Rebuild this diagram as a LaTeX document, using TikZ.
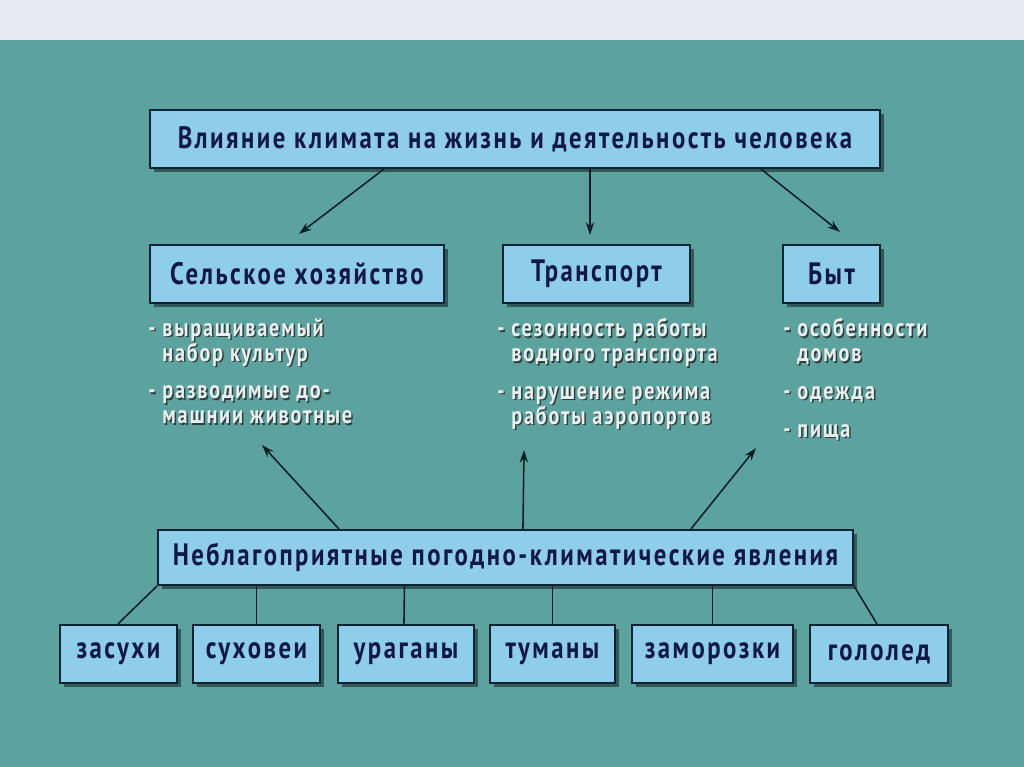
\documentclass[tikz,border=0pt]{standalone}
\usepackage{fontspec}
\setmainfont{PT Sans}
\newfontfamily\bx[FakeStretch=0.8,LetterSpace=8]{PT Sans}
\newfontfamily\bt[FakeStretch=0.8,LetterSpace=7]{PT Sans}
\usetikzlibrary{arrows.meta,shadows,calc}
\definecolor{teal1}{RGB}{92,163,160}
\definecolor{band}{RGB}{232,232,244}
\definecolor{boxfill}{RGB}{142,206,235}
\definecolor{boxline}{RGB}{14,36,52}
\definecolor{navy}{RGB}{16,24,72}
\definecolor{bultext}{RGB}{234,240,240}
\definecolor{wire}{RGB}{12,32,40}
\tikzset{
  box/.style={draw=boxline, line width=1.5pt, fill=boxfill, inner sep=0pt,
    minimum height=1.45cm, text=navy, font=\bx\bfseries\fontsize{22}{24}\selectfont,
    drop shadow={shadow xshift=0.09cm, shadow yshift=-0.09cm, fill=black, opacity=0.45}},
  small/.style={box, minimum height=1.45cm},
  bultxt/.style={anchor=north west, align=left, inner sep=0pt, text=bultext,
    font=\bt\bfseries\fontsize{18}{17.8}\selectfont},
  bulsh/.style={bultxt, text=black!85, opacity=0.8},
  arr/.style={draw=wire, line width=1.1pt, -{Stealth[length=9pt,width=6pt]}},
  link/.style={draw=wire, line width=1.1pt}
}
\newcommand{\bul}[3]{%
  \node[bulsh] (#1-sh) at ($(#2)+(1.5,1.5)$) {#3};
  \node[bultxt] (#1) at (#2) {#3};}
\begin{document}
\begin{tikzpicture}[x=0.025cm,y=-0.025cm]
\useasboundingbox (0,0) rectangle (1024,767);
\fill[band] (0,0) rectangle (1024,40);
\fill[teal1] (0,40) rectangle (1024,767);

\node[box, minimum width=730*0.025cm] (top) at (515,139) {Влияние климата на жизнь и деятельность человека};
\node[box, minimum width=294*0.025cm] (agr) at (297,274) {Сельское хозяйство};
\node[box, minimum width=187*0.025cm] (tra) at (596.5,274) {Транспорт};
\node[box, minimum width=97*0.025cm] (byt) at (831.5,274) {Быт};
\node[box, minimum width=695*0.025cm, minimum height=1.375cm] (neb) at (505.5,557.5) {Неблагоприятные погодно-климатические явления};

\node[small, minimum width=117*0.025cm] (s1) at (118.5,654) {засухи};
\node[small, minimum width=127*0.025cm] (s2) at (256.5,654) {суховеи};
\node[small, minimum width=136*0.025cm] (s3) at (406,654) {ураганы};
\node[small, minimum width=125*0.025cm] (s4) at (552.5,654) {туманы};
\node[small, minimum width=161*0.025cm] (s5) at (712.5,654) {заморозки};
\node[small, minimum width=138*0.025cm] (s6) at (879,654) {гололед};

\coordinate (pa) at (148,318);
\coordinate (pb) at (497,318);
\coordinate (pc) at (783,318);
\bul{ba}{pa}{- выращиваемый\\\hphantom{- }набор культур\\[9pt]- разводимые до-\\\hphantom{- }машнии животные}
\bul{bb}{pb}{- сезонность работы\\\hphantom{- }водного транспорта\\[9pt]- нарушение режима\\\hphantom{- }работы аэропортов}
\bul{bc}{pc}{- особенности\\\hphantom{- }домов\\[9pt]- одежда\\[9pt]- пища}

% arrows from top box
\draw[arr] ($(top.south west)+(235,0)$) -- ($(agr.north west)+(150,-10)$);
\draw[arr] ($(top.south west)+(441,0)$) -- ($(tra.north west)+(88,-9)$);
\draw[arr] ($(top.south west)+(612,0)$) -- ($(byt.north west)+(58,-12)$);

% arrows from bottom box to bullet texts
\coordinate (ea) at (262,445);
\coordinate (eb) at (524,450);
\coordinate (ec) at (756,448);
\draw[arr] ($(neb.north west)+(182,0)$) -- (ea);
\draw[arr] ($(neb.north west)+(366,0)$) -- (eb);
\draw[arr] ($(neb.north west)+(534,0)$) -- (ec);

% links to small boxes
\draw[link] (neb.south west) -- ($(s1.north west)+(59,0)$);
\draw[link] (neb.south -| s2.north) -- (s2.north);
\draw[link] ($(neb.south west)+(247.5,0)$) -- ($(s3.north west)+(67,0)$);
\draw[link] (neb.south -| s4.north) -- (s4.north);
\draw[link] (neb.south -| s5.north) -- (s5.north);
\draw[link] (neb.south east) -- ($(s6.north west)+(68,0)$);
\end{tikzpicture}
\end{document}
